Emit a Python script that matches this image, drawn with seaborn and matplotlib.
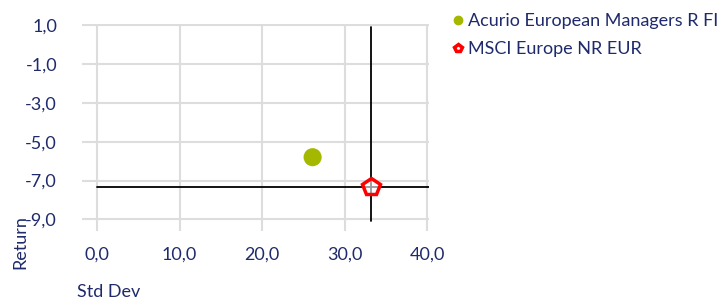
import matplotlib
matplotlib.use("Agg")
import matplotlib.pyplot as plt
import seaborn as sns
import pandas as pd
from matplotlib.ticker import FuncFormatter
from matplotlib.lines import Line2D

# Risk / return data
names = ["Acurio European Managers R FI", "MSCI Europe NR EUR"]
std_dev = [26.1, 33.2]
returns = [-5.8, -7.35]

x_ticks = [0, 10, 20, 30, 40]
y_ticks = [1, -1, -3, -5, -7, -9]

navy = "#1f2a6b"
green = "#a4b800"
red = "#ff0000"

sns.set_theme(style="white")
plt.rcParams["font.family"] = ["Lato", "DejaVu Sans"]

df = pd.DataFrame({"name": names, "std": std_dev, "ret": returns})

fig = plt.figure(figsize=(7.2, 2.99), dpi=100)
ax = fig.add_axes([0.114, 0.227, 0.482, 0.693])

# benchmark crosshair
bench = df.iloc[1]
ax.axhline(bench["ret"], xmin=(0 + 1.8) / 42.0, xmax=1, color="black", lw=1.3, zorder=2)
ax.axvline(bench["std"], ymin=(-9.1 + 9.6) / 10.65, ymax=0.985, color="black", lw=1.3, zorder=2)

sns.scatterplot(data=df.iloc[[0]], x="std", y="ret", color=green, s=170,
                edgecolor="none", ax=ax, zorder=3)
ax.plot(bench["std"], bench["ret"], marker="p", markersize=13,
        markerfacecolor=(1, 1, 1, 0.6), markeredgecolor=red, markeredgewidth=2.5,
        zorder=4)

ax.set_xlim(-1.8, 40.2)
ax.set_ylim(-9.6, 1.05)
ax.set_xticks(x_ticks)
ax.set_yticks(y_ticks)
fmt = FuncFormatter(lambda v, p: f"{v:.1f}".replace(".", ","))
ax.xaxis.set_major_formatter(fmt)
ax.yaxis.set_major_formatter(fmt)
ax.grid(True, color="#dddddd", lw=1.5)
ax.set_axisbelow(True)
for s in ax.spines.values():
    s.set_visible(False)
ax.tick_params(axis="both", length=0, labelsize=13, colors=navy)
ax.tick_params(axis="y", pad=18)
ax.tick_params(axis="x", pad=11)
ax.set_xlabel("")
ax.set_ylabel("")

fig.text(0.028, 0.1, "Return", rotation=90, color=navy, fontsize=13, ha="center", va="bottom")
fig.text(0.107, 0.025, "Std Dev", color=navy, fontsize=13, ha="left", va="center")

handles = [
    Line2D([], [], marker="o", ls="", color=green, markersize=6),
    Line2D([], [], marker="p", ls="", markerfacecolor="white", markeredgecolor=red,
           markeredgewidth=2.5, markersize=6),
]
fig.legend(handles, names, loc="upper left", bbox_to_anchor=(0.607, 1.01),
           frameon=False, fontsize=13, labelcolor=navy, handlelength=0.5,
           handletextpad=0.3, labelspacing=0.65)

fig.savefig("out.png", dpi=100)
